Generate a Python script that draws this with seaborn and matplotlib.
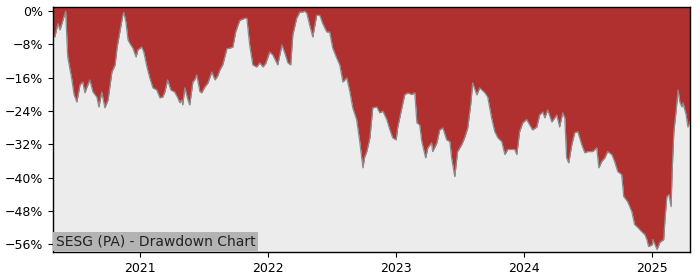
import matplotlib
matplotlib.use("Agg")
import matplotlib.pyplot as plt
import matplotlib.dates as mdates
from matplotlib.ticker import FuncFormatter, MultipleLocator
import seaborn as sns
import pandas as pd

dates = [
    "2020-04-28", "2020-05-03", "2020-05-12", "2020-05-18", "2020-06-03", "2020-06-09",
    "2020-06-21", "2020-06-27", "2020-07-05", "2020-07-14", "2020-07-22", "2020-07-28",
    "2020-08-02", "2020-08-11", "2020-08-20", "2020-08-31", "2020-09-06", "2020-09-14",
    "2020-09-23", "2020-10-02", "2020-10-13", "2020-10-22", "2020-10-28", "2020-11-04",
    "2020-11-13", "2020-11-16", "2020-11-22", "2020-11-28", "2020-12-03", "2020-12-12",
    "2020-12-21", "2020-12-26",
    "2021-01-06", "2021-01-12", "2021-01-21", "2021-01-29", "2021-02-07", "2021-02-18",
    "2021-02-27", "2021-03-07", "2021-03-13", "2021-03-21", "2021-03-30", "2021-04-10",
    "2021-04-19", "2021-04-25", "2021-04-30", "2021-05-03", "2021-05-09", "2021-05-18",
    "2021-05-23", "2021-06-01", "2021-06-06", "2021-06-12", "2021-06-21", "2021-06-26",
    "2021-07-05", "2021-07-14", "2021-07-25", "2021-08-03", "2021-08-11", "2021-08-17",
    "2021-08-25", "2021-08-31", "2021-09-06", "2021-09-14", "2021-09-23", "2021-10-01",
    "2021-10-07", "2021-10-13", "2021-10-27", "2021-11-02", "2021-11-10", "2021-11-19",
    "2021-11-30", "2021-12-09", "2021-12-18", "2021-12-26",
    "2022-01-06", "2022-01-15", "2022-01-29", "2022-02-10", "2022-02-18", "2022-02-27",
    "2022-03-07", "2022-03-13", "2022-03-24", "2022-04-02", "2022-04-10", "2022-04-16",
    "2022-04-22", "2022-04-30", "2022-05-09", "2022-05-20", "2022-05-29", "2022-06-06",
    "2022-06-18", "2022-06-26", "2022-07-05", "2022-07-16", "2022-07-25", "2022-08-03",
    "2022-08-14", "2022-08-23", "2022-08-31", "2022-09-11", "2022-09-20", "2022-09-29",
    "2022-10-04", "2022-10-10", "2022-10-19", "2022-10-27", "2022-11-08", "2022-11-16",
    "2022-11-25", "2022-12-06", "2022-12-15", "2022-12-23",
    "2023-01-02", "2023-01-06", "2023-01-18", "2023-01-26", "2023-02-04", "2023-02-15",
    "2023-02-24", "2023-03-02", "2023-03-10", "2023-03-16", "2023-03-27", "2023-04-02",
    "2023-04-13", "2023-04-16", "2023-04-28", "2023-05-06", "2023-05-15", "2023-05-26",
    "2023-06-04", "2023-06-09", "2023-06-18", "2023-06-26", "2023-07-08", "2023-07-16",
    "2023-07-25", "2023-08-03", "2023-08-08", "2023-08-20", "2023-08-28", "2023-09-12",
    "2023-09-20", "2023-10-01", "2023-10-10", "2023-10-19", "2023-10-30", "2023-11-08",
    "2023-11-16", "2023-11-28", "2023-12-06", "2023-12-12", "2023-12-20", "2023-12-29",
    "2024-01-09", "2024-01-18", "2024-01-26", "2024-02-07", "2024-02-15", "2024-02-24",
    "2024-03-01", "2024-03-09", "2024-03-21", "2024-04-04", "2024-04-12", "2024-04-21",
    "2024-04-27", "2024-05-02", "2024-05-08", "2024-05-17", "2024-05-25", "2024-06-03",
    "2024-06-14", "2024-06-23", "2024-07-01", "2024-07-15", "2024-07-27", "2024-08-02",
    "2024-08-10", "2024-08-19", "2024-08-27", "2024-09-08", "2024-09-16", "2024-09-25",
    "2024-10-06", "2024-10-12", "2024-10-23", "2024-11-04", "2024-11-12", "2024-11-21",
    "2024-12-02", "2024-12-11", "2024-12-17", "2024-12-22",
    "2025-01-02", "2025-01-03", "2025-01-15", "2025-01-23", "2025-02-03", "2025-02-07",
    "2025-02-12", "2025-02-18", "2025-02-24", "2025-02-27", "2025-03-04", "2025-03-10",
    "2025-03-16", "2025-03-21", "2025-03-27", "2025-03-30", "2025-04-08", "2025-04-13",
    "2025-04-19",
]

drawdown_pct = [
    -5.3, -6.2, -3.0, -4.5, 0.0, -11.0,
    -16.5, -20.0, -21.8, -17.7, -17.0, -19.6,
    -18.4, -16.5, -19.4, -20.6, -23.0, -19.4,
    -23.2, -21.3, -14.6, -12.9, -8.6, -5.3,
    -1.0, -0.3, -2.6, -6.9, -7.7, -8.9,
    -11.0, -9.3,
    -8.6, -9.8, -13.4, -16.0, -18.4, -18.9,
    -20.8, -20.6, -19.4, -16.5, -18.9, -19.4,
    -20.8, -22.0, -21.3, -22.5, -18.4, -21.3,
    -22.5, -17.0, -16.5, -15.3, -19.3, -19.6,
    -18.2, -17.2, -14.6, -16.5, -15.5, -14.1,
    -12.9, -11.0, -9.0, -8.9, -8.6, -5.0,
    -3.5, -2.2, -1.7, -1.7, -8.1, -12.9,
    -13.4, -12.4, -13.4, -12.5,
    -9.8, -10.5, -12.9, -8.1, -10.0, -12.4,
    -12.9, -5.7, -1.7, -0.2, -0.2, 0.0,
    -0.5, -3.3, -6.2, -1.0, -1.0, -2.9,
    -5.0, -5.0, -8.9, -11.2, -12.9, -17.0,
    -16.0, -19.4, -23.2, -26.0, -31.3, -37.6,
    -35.0, -33.7, -30.4, -23.2, -23.0, -24.4,
    -24.0, -26.0, -28.5, -30.4,
    -30.9, -28.0, -23.2, -20.1, -19.6, -20.0,
    -19.6, -26.8, -27.3, -31.3, -35.2, -32.8,
    -31.6, -33.7, -31.6, -28.5, -28.0, -30.9,
    -31.3, -35.2, -39.7, -33.7, -32.0, -30.4,
    -28.0, -22.0, -17.2, -20.1, -18.4, -19.6,
    -20.6, -25.6, -28.9, -30.4, -31.3, -34.4,
    -33.2, -33.2, -33.2, -34.4, -28.9, -26.8,
    -26.0, -27.3, -28.5, -27.8, -24.9, -24.2,
    -25.6, -23.7, -26.6, -24.9, -27.8, -24.4,
    -25.6, -35.2, -36.4, -32.0, -29.2, -28.9,
    -32.0, -34.0, -33.7, -33.7, -32.8, -37.6,
    -36.1, -35.2, -33.7, -34.4, -36.1, -38.5,
    -39.2, -44.5, -45.7, -48.1, -51.2, -51.9,
    -52.9, -53.6, -54.8, -56.5,
    -56.0, -54.8, -57.2, -55.5, -54.8, -49.5,
    -44.5, -44.0, -46.9, -38.5, -28.9, -24.2,
    -18.9, -21.8, -23.0, -22.0, -24.9, -27.8,
    -26.5,
]

title_text = "SESG (PA) - Drawdown Chart"
y_ticks = [0, -8, -16, -24, -32, -40, -48, -56]

df = pd.DataFrame({"date": pd.to_datetime(dates), "dd": drawdown_pct})

sns.set_theme(style="ticks")
plt.rcParams["font.family"] = ["DejaVu Sans"]
plt.rcParams["font.size"] = 10
plt.rcParams["xtick.labelsize"] = 9
plt.rcParams["ytick.labelsize"] = 9

fig = plt.figure(figsize=(7, 2.8), dpi=100)
ax = fig.add_axes([0.0757, 0.1, 0.91, 0.875])

red = "#b03030"
bg = "#ececec"
ax.set_facecolor(red)
ymin = -57.8
ax.fill_between(df["date"], df["dd"], ymin, color=bg, linewidth=0, zorder=1)
sns.lineplot(data=df, x="date", y="dd", ax=ax, color="#8c8c8c", linewidth=0.9, zorder=2)

ax.set_xlim(df["date"].iloc[0], df["date"].iloc[-1])
ax.set_ylim(ymin, 1.0)
ax.set_yticks(y_ticks)
ax.yaxis.set_major_formatter(FuncFormatter(lambda v, p: f"{v:.0f}%".replace("-", "\u2212")))
ax.xaxis.set_major_locator(mdates.YearLocator())
ax.xaxis.set_major_formatter(mdates.DateFormatter("%Y"))
ax.set_xlabel("")
ax.set_ylabel("")
for s in ax.spines.values():
    s.set_visible(True)
    s.set_color("black")
    s.set_linewidth(1.0)
ax.tick_params(axis="both", direction="out", length=3.5, width=0.8, colors="black")

ax.text(0.004, 0.015, title_text, transform=ax.transAxes, fontsize=10, color="#222222",
        ha="left", va="bottom", zorder=5,
        bbox=dict(boxstyle="square,pad=0.2", facecolor="#b3b3b3", edgecolor="none"))

fig.savefig("out.png", dpi=100)
